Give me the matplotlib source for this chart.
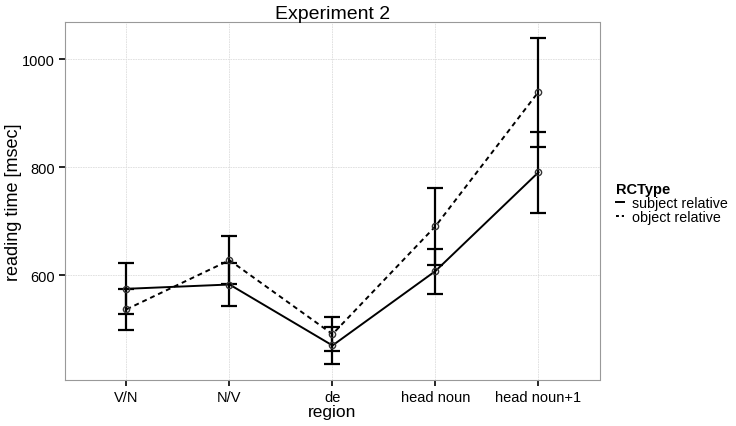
import numpy as np
import matplotlib
matplotlib.use("Agg")
from matplotlib import pyplot as plt
from matplotlib.lines import Line2D

plt.rcParams['font.family'] = ['Liberation Sans', 'DejaVu Sans']

regions = ["V/N", "N/V", "de", "head noun", "head noun+1"]

# mean reading times and error bar limits (msec)
subj_mean = [575, 583, 470, 608, 791]
subj_low = [528, 544, 436, 566, 716]
subj_high = [622, 622, 504, 649, 866]

obj_mean = [537, 628, 491, 691, 940]
obj_low = [499, 584, 460, 620, 838]
obj_high = [575, 672, 522, 762, 1040]

fig = plt.figure(figsize=(7.36, 4.27), dpi=100)
ax = fig.add_axes([0.0879, 0.1077, 0.7277, 0.8391])

x = np.arange(len(regions))


def draw(mean, low, high, ls):
    mean = np.array(mean)
    yerr = [mean - np.array(low), np.array(high) - mean]
    ax.errorbar(x, mean, yerr=yerr, fmt='none', ecolor='black',
                elinewidth=1.6, capsize=6, capthick=1.6, zorder=3)
    ax.plot(x, mean, color='black', linestyle=ls, linewidth=1.4, zorder=4)
    ax.plot(x, mean, linestyle='none', marker='o', markersize=4.5,
            markerfacecolor='none', markeredgecolor='#333333',
            markeredgewidth=1.0, zorder=5)


draw(subj_mean, subj_low, subj_high, '-')
draw(obj_mean, obj_low, obj_high, (0, (2.5, 2)))

ax.set_xlim(-0.6, len(regions) - 0.4)
ax.set_ylim(406, 1070)
ax.set_xticks(x)
ax.set_xticklabels(regions, fontsize=10.5)
ax.set_yticks([600, 800, 1000])
ax.tick_params(axis='y', labelsize=10.5)
ax.tick_params(direction='out', length=4, width=1.2, color='black', pad=3)

ax.grid(True, color='#dddddd', linestyle=(0, (2, 1)), linewidth=0.6)
ax.set_axisbelow(True)
for s in ax.spines.values():
    s.set_color('#999999')
    s.set_linestyle((0, (1, 1)))
    s.set_linewidth(0.8)

ax.set_title("Experiment 2", fontsize=14, pad=2)
ax.set_xlabel("region", fontsize=12.5, labelpad=0)
ax.set_ylabel("reading time [msec]", fontsize=13)
ax.yaxis.set_label_coords(-0.08, 0.5)

handles = [Line2D([0], [0], color='black', linestyle='-', linewidth=1.4),
           Line2D([0], [0], color='black', linestyle=(0, (1.5, 1.5)), linewidth=1.4)]
leg = fig.legend(handles, ["subject relative", "object relative"],
                 title="RCType", loc='upper left',
                 bbox_to_anchor=(0.833, 0.578), frameon=False,
                 fontsize=10.3, title_fontsize=10.5, handlelength=0.55,
                 handletextpad=0.6, labelspacing=0.0, borderaxespad=0,
                 borderpad=0.2)
leg.get_title().set_fontweight('bold')
leg._legend_box.align = "left"

fig.savefig("out.png", dpi=100)
